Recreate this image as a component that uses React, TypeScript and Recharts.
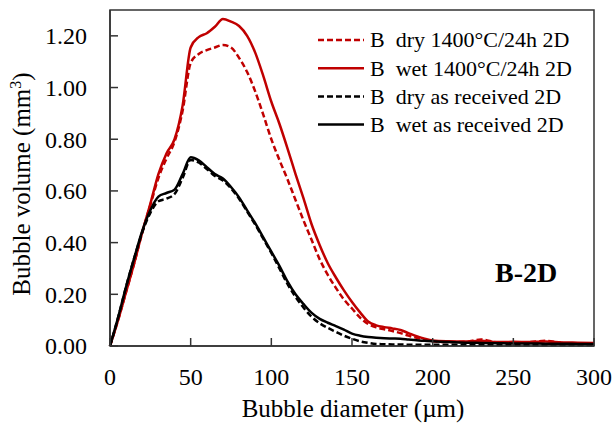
import { LineChart, Line, XAxis, YAxis, Legend, ReferenceArea, ReferenceDot, Label } from 'recharts'

const diameters = [
    0, 5, 10, 15, 20, 25, 30, 35, 40, 45,
    50, 55, 60, 65, 70, 75, 80, 85, 90, 95,
    100, 105, 110, 115, 120, 125, 130, 135, 140, 145,
    150, 155, 160, 165, 170, 175, 180, 185, 190, 195,
    200, 210, 220, 230, 240, 250, 260, 270, 280, 290, 300,
]

const wetFired = [
    0, 0.1, 0.21, 0.32, 0.44, 0.55, 0.665, 0.745, 0.8, 0.93,
    1.155, 1.195, 1.21, 1.235, 1.265, 1.255, 1.238, 1.2, 1.135, 1.045,
    0.945, 0.86, 0.765, 0.665, 0.57, 0.47, 0.39, 0.32, 0.265, 0.215,
    0.17, 0.13, 0.095, 0.08, 0.073, 0.068, 0.062, 0.05, 0.038, 0.028,
    0.021, 0.018, 0.017, 0.02, 0.015, 0.016, 0.015, 0.017, 0.014, 0.013, 0.012,
]

const dryFired = [
    0, 0.1, 0.21, 0.32, 0.44, 0.545, 0.65, 0.725, 0.79, 0.91,
    1.095, 1.13, 1.145, 1.155, 1.165, 1.155, 1.115, 1.06, 0.985, 0.895,
    0.8, 0.72, 0.645, 0.565, 0.485, 0.41, 0.335, 0.275, 0.225, 0.18,
    0.145, 0.11, 0.085, 0.072, 0.065, 0.058, 0.05, 0.04, 0.032, 0.024,
    0.018, 0.015, 0.016, 0.025, 0.014, 0.012, 0.015, 0.02, 0.012, 0.01, 0.01,
]

const wetReceived = [
    0, 0.11, 0.23, 0.34, 0.445, 0.525, 0.578, 0.592, 0.605, 0.665,
    0.73, 0.718, 0.692, 0.665, 0.648, 0.615, 0.575, 0.525, 0.475, 0.42,
    0.365, 0.31, 0.25, 0.2, 0.162, 0.128, 0.105, 0.09, 0.077, 0.063,
    0.048, 0.04, 0.035, 0.032, 0.03, 0.029, 0.028, 0.025, 0.022, 0.02,
    0.018, 0.015, 0.013, 0.012, 0.011, 0.01, 0.01, 0.009, 0.009, 0.008, 0.008,
]

const dryReceived = [
    0, 0.11, 0.23, 0.34, 0.44, 0.515, 0.56, 0.57, 0.588, 0.65,
    0.72, 0.71, 0.685, 0.658, 0.64, 0.61, 0.57, 0.52, 0.47, 0.415,
    0.36, 0.3, 0.24, 0.19, 0.148, 0.113, 0.088, 0.07, 0.055, 0.04,
    0.028, 0.018, 0.012, 0.008, 0.007, 0.006, 0.006, 0.005, 0.005, 0.005,
    0.005, 0.005, 0.005, 0.005, 0.004, 0.004, 0.004, 0.004, 0.004, 0.004, 0.004,
]

const xTicks = [0, 50, 100, 150, 200, 250, 300]
const yTicks = [0, 0.2, 0.4, 0.6, 0.8, 1.0, 1.2]

const series = [
    { key: 'dryFired', label: 'B  dry 1400°C/24h 2D', color: '#c00000', dash: '6 3' },
    { key: 'wetFired', label: 'B  wet 1400°C/24h 2D', color: '#c00000' },
    { key: 'dryReceived', label: 'B  dry as received 2D', color: '#000000', dash: '6 3' },
    { key: 'wetReceived', label: 'B  wet as received 2D', color: '#000000' },
]

const data = diameters.map((d, i) => ({
    d,
    wetFired: wetFired[i],
    dryFired: dryFired[i],
    wetReceived: wetReceived[i],
    dryReceived: dryReceived[i],
}))

const FONT = "'Liberation Serif', 'Times New Roman', 'DejaVu Serif', serif"
const AXIS = '#333333'

function YTick(props: any) {
    const { x, y, payload } = props
    return (
        <g>
            <line x1={x + 23} x2={x + 31} y1={y} y2={y} stroke={AXIS} strokeWidth={1.5} />
            <text x={x} y={y} dy="0.35em" textAnchor="end" style={{ fontSize: 24, fontFamily: FONT }} fill="#000">
                {Number(payload.value).toFixed(2)}
            </text>
        </g>
    )
}

function XTick(props: any) {
    const { x, y, payload } = props
    return (
        <g>
            <line x1={x} x2={x} y1={y - 10} y2={y - 18} stroke={AXIS} strokeWidth={1.5} />
            <text x={x} y={y + 29} textAnchor="middle" style={{ fontSize: 24, fontFamily: FONT }} fill="#000">
                {payload.value}
            </text>
        </g>
    )
}

function LegendBox() {
    return (
        <svg width={290} height={120}>
            {series.map((s, i) => {
                const cy = 14 + i * 28.2
                return (
                    <g key={s.key}>
                        <line x1={3} x2={49} y1={cy} y2={cy} stroke={s.color} strokeWidth={2.5} strokeDasharray={s.dash} />
                        <text x={55} y={cy} dy="0.34em" fill="#000" style={{ whiteSpace: 'pre', fontSize: 22, fontFamily: FONT }}>
                            {s.label}
                        </text>
                    </g>
                )
            })}
        </svg>
    )
}

export default function App() {
    return (
        <div style={{ position: 'absolute', left: 0, top: 0, background: '#fff', fontFamily: FONT }}>
            <LineChart width={614} height={424} data={data} margin={{ top: 10, right: 20, bottom: 0, left: 0 }}>
                <XAxis
                    dataKey="d"
                    type="number"
                    domain={[0, 300]}
                    ticks={xTicks}
                    height={78}
                    tickLine={false}
                    tickSize={0}
                    tickMargin={10}
                    tick={<XTick />}
                    stroke={AXIS}
                    strokeWidth={1.5}
                >
                    <Label
                        content={() => (
                            <text x={353} y={417} textAnchor="middle" style={{ fontSize: 25, fontFamily: FONT }} fill="#000">
                                Bubble diameter (µm)
                            </text>
                        )}
                    />
                </XAxis>
                <YAxis
                    type="number"
                    domain={[0, 1.3]}
                    ticks={yTicks}
                    width={110}
                    tickLine={false}
                    tickSize={0}
                    tickMargin={23}
                    tick={<YTick />}
                    stroke={AXIS}
                    strokeWidth={1.5}
                >
                    <Label
                        content={() => (
                            <text
                                x={30}
                                y={184}
                                transform="rotate(-90, 30, 184)"
                                textAnchor="middle"
                                style={{ fontSize: 25, fontFamily: FONT }}
                                fill="#000"
                            >
                                Bubble volume (mm
                                <tspan dy={-9} style={{ fontSize: 16 }}>3</tspan>
                                <tspan dy={9}>)</tspan>
                            </text>
                        )}
                    />
                </YAxis>
                <ReferenceArea x1={0} x2={300} y1={0} y2={1.3} fill="none" stroke={AXIS} strokeWidth={1.5} />
                <ReferenceDot x={258} y={0.285} r={0} fill="none" stroke="none">
                    <Label
                        value="B-2D"
                        position="center"
                        fill="#000"
                        style={{ fontSize: 28, fontWeight: 'bold', fontFamily: FONT }}
                    />
                </ReferenceDot>
                <Legend
                    layout="vertical"
                    align="center"
                    verticalAlign="middle"
                    wrapperStyle={{ top: 26, left: 315, width: 290 }}
                    content={() => <LegendBox />}
                />
                {series.map((s) => (
                    <Line
                        key={s.key}
                        type="monotone"
                        dataKey={s.key}
                        stroke={s.color}
                        strokeWidth={2.5}
                        strokeDasharray={s.dash}
                        dot={false}
                        isAnimationActive={false}
                    />
                ))}
            </LineChart>
        </div>
    )
}
